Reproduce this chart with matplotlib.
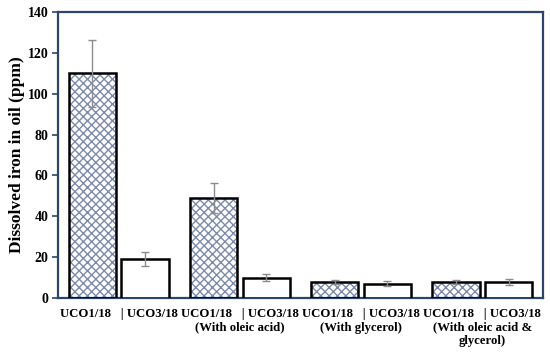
"""Dissolved iron in oil, UCO1/18 vs UCO3/18 under four treatments."""

import matplotlib

matplotlib.use("Agg")
import matplotlib.pyplot as plt  # noqa: E402
import numpy as np  # noqa: E402

groups = [
    "UCO1/18   | UCO3/18",
    "UCO1/18   | UCO3/18\n(With oleic acid)",
    "UCO1/18   | UCO3/18\n(With glycerol)",
    "UCO1/18   | UCO3/18\n(With oleic acid &\nglycerol)",
]
uco1_iron = [110, 49, 8, 8]
uco1_err = [16.5, 7.3, 1.0, 1.0]
uco3_iron = [19, 10, 7, 8]
uco3_err = [3.5, 1.8, 1.2, 1.4]

SPINE = "#2c4470"
HATCH = "#7d8aab"
SERIF = ["Liberation Serif", "DejaVu Serif"]

plt.rcParams["font.family"] = SERIF
plt.rcParams["font.weight"] = "bold"
plt.rcParams["hatch.linewidth"] = 1.0

fig = plt.figure(figsize=(5.5, 3.54), dpi=100)
ax = fig.add_axes([58 / 550, 1 - 298 / 354, 485 / 550, 286 / 354])

x = np.arange(len(groups))
w = 0.39
off = 0.217

# hatched fill first, then the black outline on top
ax.bar(x - off, uco1_iron, w, color="white", edgecolor=HATCH, hatch="xxxx",
       linewidth=0, zorder=2)
ax.bar(x - off, uco1_iron, w, color="none", edgecolor="black", linewidth=1.8,
       zorder=3)
ax.bar(x + off, uco3_iron, w, color="white", edgecolor="black", linewidth=1.8,
       zorder=3)

ekw = dict(fmt="none", ecolor="#8c8c8c", elinewidth=1.0, capsize=3, capthick=1.0,
           zorder=4)
ax.errorbar(x - off, uco1_iron, yerr=uco1_err, **ekw)
ax.errorbar(x + off, uco3_iron, yerr=uco3_err, **ekw)

ax.set_xlim(-0.5, len(groups) - 0.5)
ax.set_ylim(0, 140)
ax.set_yticks(range(0, 141, 20))
ax.set_xticks(x)
ax.set_xticklabels(groups, fontsize=9.2, fontweight="bold", linespacing=1.2)
ax.tick_params(axis="x", length=0, pad=7)
ax.tick_params(axis="y", direction="out", length=4, width=1.2, color=SPINE,
               labelsize=10, pad=3)
for lab in ax.get_yticklabels():
    lab.set_fontweight("bold")

for side in ["left", "right", "top", "bottom"]:
    ax.spines[side].set_color(SPINE)
    ax.spines[side].set_linewidth(1.6)

ax.set_ylabel("Dissolved iron in oil (ppm)", fontsize=12.5, fontweight="bold",
              labelpad=2)

fig.savefig("out.png", dpi=100)
